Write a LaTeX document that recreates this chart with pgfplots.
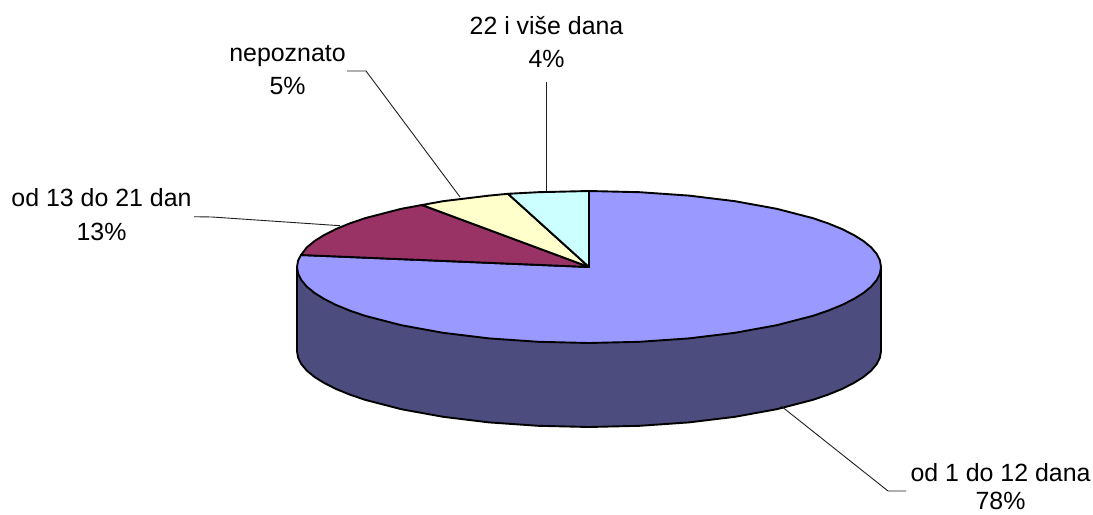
\documentclass[border=0pt]{standalone}
\usepackage{pgfplots}
\pgfplotsset{compat=1.18}
\usepackage{fontspec}
\setmainfont{Liberation Sans}
\definecolor{cBlue}{HTML}{9999FF}
\definecolor{cDark}{HTML}{4C4C7F}
\definecolor{cMaroon}{HTML}{993366}
\definecolor{cYellow}{HTML}{FFFFCC}
\definecolor{cCyan}{HTML}{CCFFFF}
\definecolor{cLead}{HTML}{202020}
\tikzset{lab/.style={anchor=base, inner sep=0pt, font=\fontsize{24.9bp}{28bp}\selectfont}}
\begin{document}
\begin{tikzpicture}
\begin{axis}[
  scale only axis, width=1093bp, height=515bp,
  xmin=0, xmax=1093, ymin=0, ymax=515, y dir=reverse,
  hide axis, clip=false,
  every axis plot/.append style={no markers, sharp plot, line join=round},
]
\path (axis cs:0,0) rectangle (axis cs:1093,515);
% side wall
\addplot[fill=cDark, draw=black, line width=1.9bp] coordinates {
 (881,267)(881,351)(879.9,357.6)(876.6,364.2)(871.1,370.7)(863.4,377)(853.6,383.1)(841.9,389)(828.2,394.6)(812.7,399.9)(776.7,409.2)(735,416.8)(688.9,422.4)(639.7,425.8)(589,427)
 (538.3,425.8)(489.1,422.4)(443,416.8)(401.3,409.2)(365.3,399.9)(349.8,394.6)(336.1,389)(324.4,383.1)(314.6,377)(306.9,370.7)(301.4,364.2)(298.1,357.6)(297,351)(297,267)
} --cycle;
% 78 %
\addplot[fill=cBlue, draw=black, line width=1.9bp] coordinates {
 (589,267)(589,191)(639.7,192.2)(688.9,195.6)(735,201.2)(776.7,208.8)(812.7,218.1)(828.2,223.4)(841.9,229)(853.6,234.9)(863.4,241)(871.1,247.3)(876.6,253.8)(879.9,260.4)(881,267)
 (879.9,273.6)(876.6,280.2)(871.1,286.7)(863.4,293)(853.6,299.1)(841.9,305)(828.2,310.6)(812.7,315.9)(776.7,325.2)(735,332.8)(688.9,338.4)(639.7,341.8)(589,343)
 (538.3,341.8)(489.1,338.4)(443,332.8)(401.3,325.2)(365.3,315.9)(349.8,310.6)(336.1,305)(324.4,299.1)(314.6,293)(306.9,286.7)(301.4,280.2)(298.1,273.6)(297,267)(298.1,260.4)(301,255)
} --cycle;
% 13 %
\addplot[fill=cMaroon, draw=black, line width=1.9bp] coordinates {
 (589,267)(301,255)(306.9,247.3)(314.6,241)(324.4,234.9)(336.1,229)(349.8,223.4)(365.3,218.1)(401.3,208.8)(422,205)
} --cycle;
% 5 %
\addplot[fill=cYellow, draw=black, line width=1.9bp] coordinates {
 (589,267)(422,205)(443,201.2)(489.1,195.6)(508,193.8)
} --cycle;
% 4 %
\addplot[fill=cCyan, draw=black, line width=1.9bp] coordinates {
 (589,267)(508,193.8)(538.3,192.2)(589,191)
} --cycle;
% leaders
\addplot[cLead, line width=0.9bp] coordinates {(546.5,82)(546.5,191)};
\addplot[cLead, line width=0.9bp] coordinates {(347,71)(366,71)(460,197)};
\addplot[cLead, line width=0.9bp] coordinates {(194,216.7)(212,217)(340,225.7)};
\addplot[cLead, line width=0.9bp] coordinates {(781,406)(888,491)(906,491)};
% labels
\node[lab] at (axis cs:546.5,35) {22 i više dana};
\node[lab] at (axis cs:546.5,68) {4\%};
\node[lab] at (axis cs:287.5,62) {nepoznato};
\node[lab] at (axis cs:287.5,94) {5\%};
\node[lab] at (axis cs:101.5,206) {od 13 do 21 dan};
\node[lab] at (axis cs:101.5,240) {13\%};
\node[lab] at (axis cs:1000.5,481) {od 1 do 12 dana};
\node[lab] at (axis cs:1000.5,509.5) {78\%};
\end{axis}
\end{tikzpicture}
\end{document}
